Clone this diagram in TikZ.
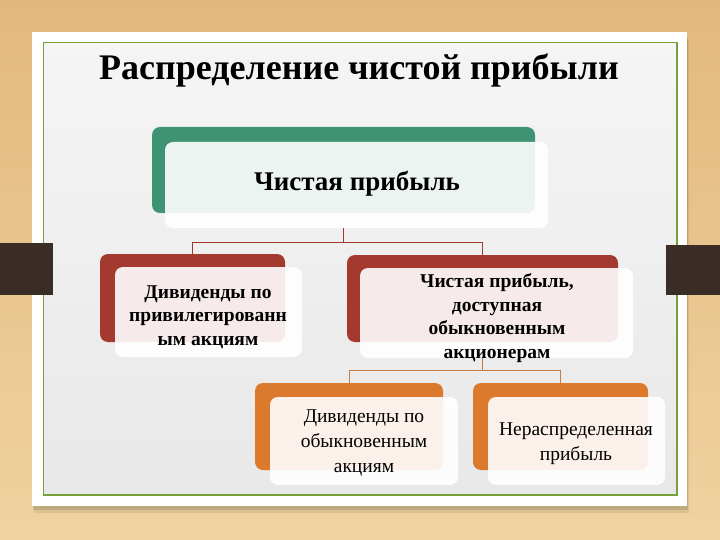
\documentclass[tikz,border=0pt]{standalone}
\usepackage{fontspec}
\setmainfont{Liberation Serif}
\definecolor{grn}{HTML}{3E9472}
\definecolor{redb}{HTML}{A43A2F}
\definecolor{orb}{HTML}{DB7A2C}
\definecolor{cnA}{HTML}{9E3A2E}
\definecolor{cnB}{HTML}{C47A40}
\definecolor{tabc}{HTML}{3A2D25}
\definecolor{olive}{HTML}{76A03A}
\definecolor{woodA}{HTML}{E3B87E}
\definecolor{woodB}{HTML}{EFD3A0}
\tikzset{
  backbox/.style={rounded corners=8pt, inner sep=0pt, outer sep=0pt},
  frontbox/.style={rounded corners=8pt, inner sep=0pt, outer sep=0pt, fill=white, fill opacity=0.9},
  boldtxt/.style={align=center, inner sep=0pt, font=\fontsize{19.5}{23.5}\selectfont\bfseries},
  regtxt/.style={align=center, inner sep=0pt, font=\fontsize{19.5}{25}\selectfont},
  connA/.style={draw=cnA, line width=0.9pt},
  connB/.style={draw=cnB, line width=0.9pt}
}
\begin{document}
\begin{tikzpicture}[x=1pt,y=-1pt]
\useasboundingbox (0,0) rectangle (720,540);
% wood background
\shade[top color=woodA, bottom color=woodB] (0,0) rectangle (720,540);
% card shadow
\fill[black, opacity=0.08] (34,40) rectangle (689,513);
\fill[black, opacity=0.12] (33,38) rectangle (688,510);
% card
\fill[white] (32,32) rectangle (687,506);
\shade[top color=white!96!black, bottom color=white!91!black] (43.5,42.5) rectangle (677,495);
\draw[olive, line width=1.3pt] (43.5,42.5) rectangle (677,495);
% side tabs
\fill[tabc] (0,243) rectangle (53,295);
\fill[tabc] (666,245) rectangle (720,295);
% title
\node[anchor=base, font=\fontsize{36}{40}\selectfont\bfseries] (title) at (359,80) {Распределение чистой прибыли};
% top box
\node[backbox, fill=grn, minimum width=383pt, minimum height=86pt] (topB) at (343.5,170) {};
\node[frontbox, minimum width=383pt, minimum height=86pt] (topF) at (356.5,185) {};
\node[inner sep=0pt, font=\fontsize{27}{32}\selectfont\bfseries] (topT) at (357,184) {Чистая прибыль};
% second level
\node[backbox, fill=redb, minimum width=185pt, minimum height=88pt] (leftB) at (192.5,298) {};
\node[frontbox, minimum width=187pt, minimum height=90pt] (leftF) at (208.5,312) {};
\node[boldtxt] (leftT) at (208,317) {Дивиденды по\\привилегированн\\ым акциям};
\node[backbox, fill=redb, minimum width=271pt, minimum height=87pt] (midB) at (482.5,298.5) {};
\node[frontbox, minimum width=273pt, minimum height=90pt] (midF) at (496.5,313) {};
\node[boldtxt] (midT) at (497,318) {Чистая прибыль,\\доступная\\обыкновенным\\акционерам};
% third level
\node[backbox, fill=orb, minimum width=188pt, minimum height=87pt] (olB) at (349,426.5) {};
\node[frontbox, minimum width=188pt, minimum height=88pt] (olF) at (364,441) {};
\node[regtxt] (olT) at (364,443) {Дивиденды по\\обыкновенным\\акциям};
\node[backbox, fill=orb, minimum width=175pt, minimum height=87pt] (orB) at (560.5,426.5) {};
\node[frontbox, minimum width=177pt, minimum height=88pt] (orF) at (576.5,441) {};
\node[regtxt] (orT) at (576,444) {Нераспределенная\\прибыль};
% connectors
\draw[connA] (topF.south -| topB.south) -- ++(0,14) coordinate (j1);
\draw[connA] (j1) -| (leftB.north);
\draw[connA] (j1) -| (midB.north);
\draw[connB] (midF.south -| midB.south) -- ++(0,12) coordinate (j2);
\draw[connB] (j2) -| (olB.north);
\draw[connB] (j2) -| (orB.north);
\end{tikzpicture}
\end{document}
